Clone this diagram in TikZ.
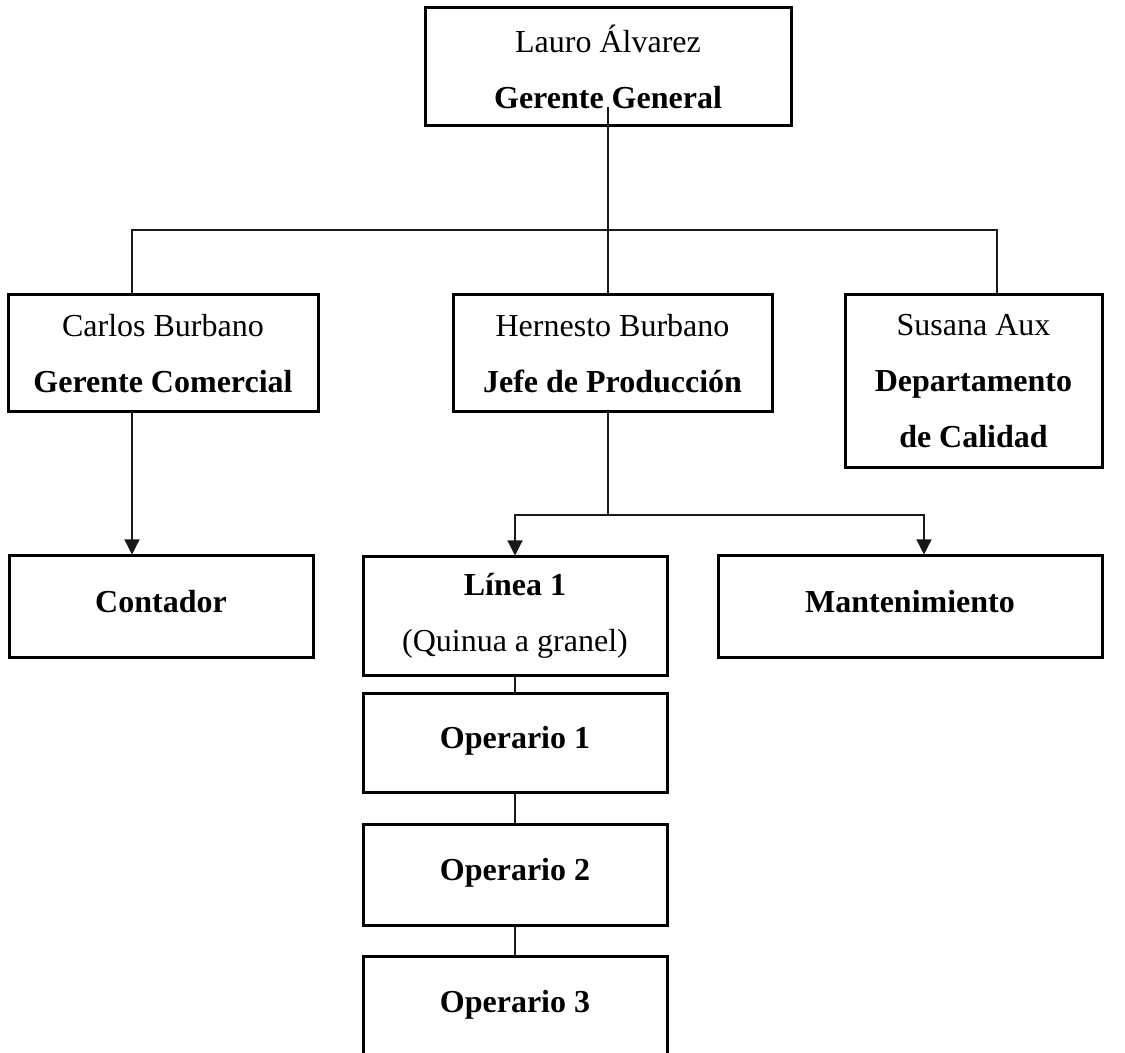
\documentclass[tikz,border=0pt]{standalone}
\usepackage{fontspec}
\setmainfont{Liberation Serif}
\usetikzlibrary{arrows.meta}

\begin{document}
\begin{tikzpicture}[x=0.5pt,y=-0.5pt,
  box/.style={draw,line width=1.5pt,inner sep=0pt,align=center,font=\fontsize{16}{28}\selectfont},
  single/.style={box,text height=11pt,text depth=5pt},
  conn/.style={draw,line width=0.6pt,black!90},
  arr/.style={conn,-{Triangle[width=7.5pt,length=7.5pt]}}]
 \useasboundingbox (0,0) rectangle (1125,1053);
 \clip (0,0) rectangle (1125,1053);
 \node[box,minimum width=183pt,minimum height=59pt] (gg) at (608,67) {Lauro Álvarez\\\textbf{Gerente General}};
 \node[box,minimum width=155pt,minimum height=58.5pt] (gc) at (163,353.5) {Carlos Burbano\\\textbf{Gerente Comercial}};
 \node[box,minimum width=159.5pt,minimum height=58.5pt] (jp) at (612.5,353.5) {Hernesto Burbano\\\textbf{Jefe de Producción}};
 \node[box,minimum width=128.5pt,minimum height=86.5pt] (dc) at (973.5,381.5) {Susana Aux\\\textbf{Departamento}\\\textbf{de Calidad}};
 \node[single,minimum width=152pt,minimum height=50.5pt] (cont) at (161,606.5) {\textbf{Contador}};
 \node[box,minimum width=152pt,minimum height=59pt] (lin) at (515,616) {\textbf{Línea 1}\\(Quinua a granel)};
 \node[single,minimum width=192pt,minimum height=50.5pt] (mant) at (910,606.5) {\textbf{Mantenimiento}};
 \node[single,minimum width=152pt,minimum height=49.5pt] (op1) at (515,742.5) {\textbf{Operario 1}};
 \node[single,minimum width=152pt,minimum height=50.5pt] (op2) at (515,874.5) {\textbf{Operario 2}};
 \node[single,minimum width=152pt,minimum height=50.5pt] (op3) at (515,1006.5) {\textbf{Operario 3}};
 \coordinate (tap) at (608,107);
 \coordinate (bus) at (608,230);
 \coordinate (busL) at (132,230);
 \coordinate (busR) at (997,230);
 \coordinate (split) at (608,515);
 \coordinate (splitR) at (924,515);
 \draw[conn] (tap) -- (bus);
 \draw[conn] (busL |- gc.north) -- (busL) -- (busR) -- (busR |- dc.north);
 \draw[conn] (bus) -- (bus |- jp.north);
 \draw[arr] (busL |- gc.south) -- (busL |- cont.north);
 \draw[conn] (split |- jp.south) -- (split);
 \draw[arr] (split) -| (lin.north);
 \draw[arr] (split) -- (splitR) -- (splitR |- mant.north);
 \draw[conn] (lin) -- (op1);
 \draw[conn] (op1) -- (op2);
 \draw[conn] (op2) -- (op3);
\end{tikzpicture}
\end{document}
